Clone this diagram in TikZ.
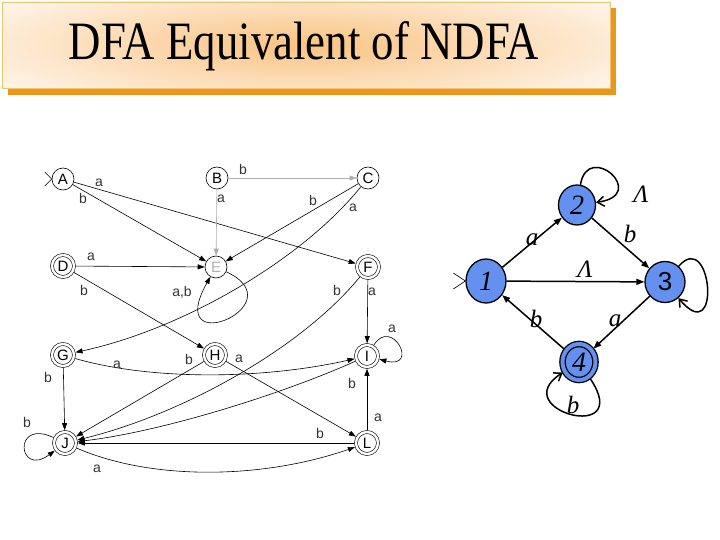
\documentclass[tikz,border=0pt]{standalone}
\usepackage{fontspec}
\setmainfont{Liberation Serif}
\newfontfamily\arialf{Liberation Sans}
\usetikzlibrary{arrows.meta,shapes.geometric}

\definecolor{nfablue}{RGB}{100,145,240}
\definecolor{shadoworange}{RGB}{236,150,30}
\definecolor{boxborder}{RGB}{240,195,110}
\definecolor{glow}{RGB}{250,195,130}
\definecolor{lgrey}{RGB}{175,175,175}

\begin{document}
\begin{tikzpicture}[x=1pt,y=-1pt,
  st/.style={circle,draw,line width=0.6pt,minimum size=22pt,inner sep=0pt,font=\arialf\fontsize{15}{15}\selectfont},
  acc/.style={st,double,double distance=2.4pt,minimum size=22pt,outer sep=1.8pt},
  e/.style={line width=0.6pt,-{Triangle[length=7pt,width=5pt]}},
  ge/.style={e,draw=lgrey},
  lbl/.style={font=\arialf\fontsize{14}{14}\selectfont,text=black!80,inner sep=0pt},
  nst/.style={ellipse,draw=black,line width=1.3pt,fill=nfablue,inner sep=0pt,font=\fontsize{28}{28}\selectfont\itshape},
  ne/.style={line width=1.5pt,-{Triangle[length=8pt,width=6pt]}},
  nl/.style={line width=1.5pt,-{Straight Barb[length=7pt,width=10pt]}},
  nlab/.style={font=\fontsize{25}{25}\selectfont\itshape,inner sep=0pt}
]
\useasboundingbox (0,0) rectangle (720,540);
\fill[white] (0,0) rectangle (720,540);

% title box
\fill[shadoworange] (8,8) rectangle (616,95);
\begin{scope}
\clip (2,2) rectangle (610,88);
\fill[white] (2,2) rectangle (610,88);
\shade[inner color=glow,outer color=white] (-150,-40) rectangle (760,130);
\end{scope}
\draw[boxborder,line width=0.8pt] (2,2) rectangle (610,88);
\node[inner sep=0pt] (title) at (304,46) {\scalebox{0.83}[1]{\fontsize{54}{54}\selectfont DFA Equivalent of NDFA}};

% left DFA
\node[st] (A) at (63,179) {A};
\node[st] (B) at (217,178) {B};
\node[st] (C) at (368,178) {C};
\node[acc] (D) at (63,266) {D};
\node[st,text=lgrey] (E) at (216,267) {E};
\node[acc] (F) at (368,267) {F};
\node[acc] (G) at (63,355) {G};
\node[acc] (H) at (215,355) {H};
\node[acc] (I) at (367,356) {I};
\node[acc] (J) at (65,443) {J};
\node[acc] (L) at (367,443) {L};

\draw[line width=0.6pt] (A.west) ++(-7,-7) -- (A.west) -- ++(-7,7);

\draw[e] (A) -- (F);
\draw[e] (A) -- (E);
\draw[ge] (B) -- (E);
\draw[ge] (B) -- (C);
\draw[e] (C) -- (E);
\draw[e] (C) .. controls (300,262) and (180,330) .. (G);
\draw[e] (D) -- (E);
\draw[e] (D) -- (H);
\draw[e] (E) .. controls (298,305) and (162,362) .. (E);
\draw[e] (F) -- (I);
\draw[e] (F) .. controls (300,350) and (180,415) .. (J);
\draw[e] (G) .. controls (150,380) and (260,380) .. (I);
\draw[e] (G) -- (J);
\draw[e] (H) -- (J);
\draw[e] (H) -- (L);
\draw[e] (I) .. controls (392,316) and (420,370) .. (I);
\draw[e] (I) .. controls (280,395) and (160,432) .. (J);
\draw[e] (J) .. controls (12,418) and (18,478) .. (J);
\draw[e] (J) .. controls (150,480) and (260,480) .. (L);
\draw[e] (L) -- (I);
\draw[e] (L) -- (J);

\node[lbl] (lAF) at (99,183) {a};
\node[lbl] (lAE) at (83,198) {b};
\node[lbl] (lDE) at (91,257) {a};
\node[lbl] (lDH) at (84,290) {b};
\node[lbl] (lEE) at (182,292) {a,b};
\node[lbl] (lBC) at (243,169) {b};
\node[lbl] (lBE) at (221,199) {a};
\node[lbl] (lCE) at (313,200) {b};
\node[lbl] (lCG) at (353,208) {a};
\node[lbl] (lFJ) at (337,290) {b};
\node[lbl] (lFI) at (372,292) {a};
\node[lbl] (lGI) at (117,365) {a};
\node[lbl] (lGJ) at (48,377) {b};
\node[lbl] (lHJ) at (189,359) {b};
\node[lbl] (lJJ) at (27,422) {b};
\node[lbl] (lJL) at (97,469) {a};
\node[lbl] (lHL) at (239,359) {a};
\node[lbl] (lIJ) at (352,383) {b};
\node[lbl] (lLJ) at (320,433) {b};
\node[lbl] (lLI) at (378,418) {a};
\node[lbl] (lII) at (392,329) {a};

% right NFA
\node[nst,minimum width=40pt,minimum height=44pt] (n1) at (486,281) {1};
\node[nst,minimum width=37pt,minimum height=40pt] (n2) at (577,205) {2};
\node[nst,minimum width=40pt,minimum height=41pt,font=\arialf\fontsize{26}{26}\selectfont] (n3) at (665,282) {3};
\node[nst,double=nfablue,double distance=4pt,minimum width=33pt,minimum height=36pt,outer sep=2.5pt] (n4) at (579,362) {4};

\draw[line width=0.6pt] (n1.west) ++(-12,-8) -- (n1.west) -- ++(-12,8);

\draw[ne] (n1) -- (n2);
\draw[ne] (n2) -- (n3);
\draw[ne] (n1) -- (n3);
\draw[ne] (n3) -- (n4);
\draw[ne] (n4) -- (n1);
\draw[nl] (n2) .. controls (588,140) and (650,195) .. (n2);
\draw[nl] (n3) .. controls (712,228) and (722,350) .. (n3);
\draw[nl] (n4) .. controls (635,445) and (505,410) .. (n4);

\node[nlab] (la12) at (532,240) {a};
\node[nlab] (lb23) at (630,234) {b};
\node[nlab] (lL13) at (585,269) {Λ};
\node[nlab] (lL22) at (641,194) {Λ};
\node[nlab] (la34) at (615,321) {a};
\node[nlab] (lb41) at (536,319) {b};
\node[nlab] (lb44) at (573,405) {b};
\end{tikzpicture}
\end{document}
